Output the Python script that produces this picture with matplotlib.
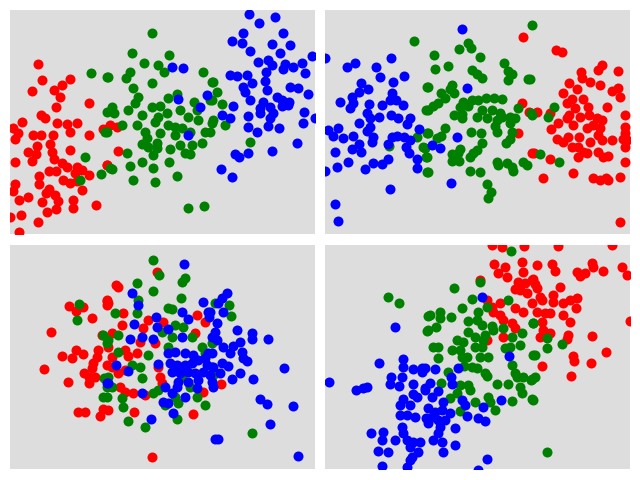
import matplotlib
matplotlib.use("Agg")
import matplotlib.pyplot as plt

# Point positions, in picture pixels (x right, y down).

# top-left panel
tl_red = [(38, 64), (42, 80), (32, 91), (54, 90), (62, 85), (70, 79), (60, 97), (56, 107), (89, 103),
          (41, 115), (45, 118), (22, 122), (13, 128), (18, 133), (15, 139), (57, 123), (67, 124), (77, 123),
          (70, 132), (33, 135), (41, 135), (53, 135), (89, 135), (37, 146), (28, 152), (36, 154), (50, 144),
          (52, 152), (70, 150), (54, 159), (62, 163), (67, 167), (15, 162), (32, 161), (77, 167), (82, 170),
          (89, 175), (75, 173), (49, 171), (56, 171), (39, 176), (63, 180), (70, 183), (77, 181), (82, 190),
          (39, 184), (15, 184), (13, 191), (49, 189), (55, 195), (46, 193), (19, 200), (28, 197), (42, 202),
          (58, 201), (73, 200), (47, 212), (56, 209), (73, 208), (96, 205), (21, 215), (10, 217), (38, 222),
          (19, 232), (107, 165), (103, 129), (110, 125), (117, 127), (118, 151), (107, 165)]
tl_green = [(91, 73), (107, 77), (107, 112), (105, 132), (85, 157), (101, 174), (110, 168), (80, 180),
            (152, 33), (132, 53), (169, 55), (144, 63), (158, 65), (164, 72), (130, 72), (126, 78), (108, 77),
            (152, 83), (133, 88), (203, 72), (212, 82), (138, 97), (168, 98), (177, 94), (194, 102), (135, 103),
            (112, 107), (114, 113), (128, 110), (142, 115), (152, 107), (160, 106), (167, 113), (158, 117),
            (180, 110), (188, 117), (197, 110), (210, 100), (212, 123), (198, 120), (155, 122), (168, 125),
            (175, 127), (182, 128), (190, 132), (205, 132), (137, 125), (145, 132), (160, 133), (175, 135),
            (122, 125), (107, 132), (147, 138), (142, 144), (148, 147), (157, 143), (157, 148), (180, 145),
            (192, 145), (202, 143), (170, 149), (185, 153), (190, 154), (127, 153), (153, 155), (142, 162),
            (130, 166), (169, 162), (153, 168), (112, 169), (133, 180), (155, 182), (177, 176), (188, 208),
            (204, 206), (213, 82), (217, 92), (212, 100), (222, 104), (213, 120), (225, 125), (210, 132),
            (250, 142)]
tl_blue = [(172, 67), (183, 68), (178, 99), (207, 95), (200, 107), (188, 135),
           (249, 14), (275, 17), (259, 23), (243, 33), (283, 33), (232, 41), (242, 43), (272, 44), (290, 45),
           (250, 51), (280, 53), (312, 56), (268, 60), (258, 62), (272, 65), (285, 64), (293, 67), (302, 63),
           (283, 69), (305, 73), (266, 72), (230, 75), (237, 76), (247, 75), (265, 81), (252, 83), (243, 87),
           (290, 87), (298, 88), (267, 90), (245, 92), (308, 94), (250, 100), (263, 102), (277, 97), (282, 100),
           (289, 102), (233, 106), (260, 108), (270, 107), (282, 106), (288, 105), (260, 113), (273, 113),
           (304, 112), (230, 118), (248, 116), (270, 118), (303, 123), (315, 118), (248, 127), (268, 126),
           (279, 128), (257, 132), (222, 115), (297, 143), (272, 151), (235, 154), (239, 157), (248, 153),
           (221, 169), (232, 177)]

# top-right panel
tr_red = [(523, 37), (522, 103), (518, 133), (532, 153), (529, 112),
          (556, 50), (562, 52), (581, 72), (582, 78), (590, 82), (600, 85), (602, 65), (598, 70), (618, 71),
          (569, 83), (612, 91), (618, 88), (620, 97), (563, 93), (577, 89), (572, 99), (583, 99), (567, 103),
          (575, 108), (588, 107), (607, 107), (569, 115), (580, 117), (589, 115), (567, 118), (597, 118),
          (602, 120), (625, 115), (537, 112), (550, 113), (558, 123), (551, 129), (573, 125), (587, 128),
          (593, 125), (600, 128), (625, 127), (625, 133), (623, 139), (627, 140), (598, 135), (557, 139),
          (563, 142), (568, 137), (572, 147), (579, 137), (578, 147), (590, 142), (583, 152), (602, 140),
          (612, 140), (598, 152), (603, 157), (608, 156), (587, 153), (625, 147), (534, 153), (550, 159),
          (578, 157), (625, 162), (543, 178), (573, 173), (593, 178), (600, 180), (606, 178), (608, 180),
          (620, 177), (620, 222)]
tr_green = [(414, 41), (427, 87), (426, 110), (417, 137), (427, 133), (423, 147), (426, 157), (427, 172),
            (389, 146), (532, 25), (459, 49), (468, 43), (471, 48), (480, 57), (434, 55), (435, 69), (448, 66),
            (504, 63), (472, 70), (508, 71), (512, 74), (508, 80), (477, 74), (482, 78), (528, 79), (452, 85),
            (428, 87), (450, 89), (441, 93), (454, 93), (445, 98), (438, 103), (433, 106), (428, 110),
            (463, 102), (472, 100), (478, 100), (486, 98), (494, 98), (502, 99), (460, 107), (468, 106),
            (482, 110), (492, 110), (500, 113), (518, 108), (531, 113), (454, 115), (462, 118), (477, 117),
            (487, 118), (497, 120), (510, 117), (515, 118), (462, 114), (502, 117), (495, 126), (510, 123),
            (497, 132), (512, 132), (445, 128), (428, 133), (441, 136), (437, 138), (471, 132), (481, 133),
            (510, 139), (506, 143), (482, 143), (477, 150), (425, 148), (460, 149), (452, 154), (458, 153),
            (473, 153), (452, 161), (459, 161), (470, 157), (427, 157), (497, 162), (498, 165), (507, 163),
            (512, 167), (513, 171), (523, 162), (527, 165), (470, 171), (480, 172), (428, 172), (487, 184),
            (491, 192), (488, 198), (530, 79), (532, 115), (554, 107), (548, 117), (540, 154), (559, 162)]
tr_blue = [(325, 58), (355, 63), (347, 67), (391, 58), (376, 67), (380, 77), (404, 76), (393, 82), (361, 83),
           (368, 89), (359, 92), (352, 97), (340, 102), (353, 103), (392, 93), (390, 100), (396, 100),
           (369, 104), (382, 105), (403, 105), (350, 108), (367, 113), (379, 117), (391, 115), (398, 118),
           (410, 118), (370, 118), (359, 123), (407, 124), (370, 127), (328, 130), (338, 128), (367, 131),
           (419, 129), (333, 136), (343, 138), (353, 136), (373, 137), (392, 137), (397, 136), (404, 137),
           (410, 140), (372, 142), (388, 144), (359, 144), (352, 149), (361, 152), (406, 147), (409, 153),
           (335, 152), (348, 162), (373, 163), (382, 164), (388, 159), (337, 167), (325, 171), (365, 169),
           (417, 159), (417, 168), (390, 189), (335, 204), (338, 221),
           (462, 29), (467, 88), (457, 137), (432, 145), (440, 148), (451, 183)]

# bottom-left panel
bl_red = [(69, 306), (76, 311), (83, 307), (92, 318), (51, 332), (107, 301), (107, 305), (102, 335),
          (76, 350), (83, 354), (62, 356), (72, 358), (98, 350), (97, 357), (93, 363), (44, 369), (92, 368),
          (84, 373), (89, 377), (95, 377), (89, 383), (68, 382), (107, 365), (78, 412), (85, 412), (103, 409),
          (100, 416), (116, 285), (118, 287), (157, 272), (107, 300), (108, 303), (123, 313), (122, 325),
          (148, 320), (163, 322), (143, 328), (197, 315), (205, 322), (195, 333), (112, 333), (108, 347),
          (125, 350), (137, 353), (112, 357), (128, 356), (155, 343), (140, 342), (112, 367), (118, 373),
          (125, 370), (158, 367), (160, 377), (162, 383), (120, 387), (125, 392), (133, 393), (145, 395),
          (108, 410), (134, 412), (193, 414), (152, 457), (203, 392), (182, 367), (221, 384)]
bl_green = [(79, 304), (77, 320), (103, 335), (107, 343), (104, 378), (103, 397), (107, 387),
            (153, 260), (159, 275), (137, 283), (153, 291), (138, 300), (115, 313), (137, 313), (168, 308),
            (172, 309), (182, 282), (185, 278), (181, 298), (183, 327), (192, 337), (175, 325), (108, 340),
            (118, 335), (118, 352), (162, 332), (172, 337), (168, 347), (148, 355), (132, 365), (140, 367),
            (202, 347), (205, 353), (212, 343), (108, 377), (112, 387), (142, 378), (122, 398), (123, 407),
            (153, 393), (158, 390), (182, 377), (175, 397), (178, 403), (165, 405), (128, 421), (145, 427),
            (177, 419), (205, 405), (197, 397), (190, 387), (107, 397), (215, 303), (229, 305), (231, 316),
            (213, 375), (252, 433)]
bl_blue = [(107, 383), (184, 264), (132, 293), (138, 305), (203, 302), (208, 312), (209, 317), (182, 312),
           (188, 319), (156, 317), (134, 324), (157, 327), (168, 329), (153, 339), (142, 337), (130, 339),
           (182, 337), (212, 337), (168, 353), (175, 352), (185, 353), (193, 355), (205, 358), (208, 353),
           (158, 364), (170, 363), (177, 365), (185, 365), (192, 363), (198, 360), (207, 365), (172, 372),
           (180, 373), (188, 372), (195, 373), (203, 372), (212, 367), (128, 371), (178, 382), (188, 382),
           (198, 380), (210, 375), (108, 383), (165, 387), (177, 387), (197, 388), (142, 393), (172, 393),
           (185, 397), (163, 402), (168, 403), (173, 413), (116, 365), (151, 419), (215, 439), (212, 382),
           (227, 293), (222, 298), (218, 303), (210, 312), (223, 312), (217, 323), (215, 332), (217, 340),
           (237, 330), (252, 333), (252, 339), (268, 339), (240, 342), (233, 346), (223, 347), (230, 353),
           (242, 352), (212, 353), (243, 358), (247, 361), (222, 363), (228, 366), (220, 373), (213, 367),
           (240, 373), (232, 379), (253, 379), (213, 387), (284, 368), (260, 399), (267, 404), (293, 406),
           (270, 424), (218, 439), (298, 456)]

# bottom-right panel
br_red = [(492, 245), (502, 247), (524, 246), (494, 264), (505, 267), (498, 273), (507, 277), (522, 262),
          (523, 272), (518, 282), (525, 283), (532, 280), (480, 280), (515, 289), (520, 290), (527, 293),
          (487, 300), (492, 307), (500, 303), (493, 312), (500, 315), (515, 308), (523, 312), (532, 303),
          (503, 320), (512, 323), (515, 328), (503, 337), (487, 340), (558, 246), (612, 245), (537, 265),
          (552, 264), (555, 271), (592, 263), (593, 267), (603, 271), (622, 267), (627, 275), (577, 272),
          (580, 276), (585, 273), (533, 279), (535, 284), (537, 288), (560, 287), (540, 297), (542, 300),
          (553, 295), (553, 302), (563, 303), (570, 300), (577, 298), (576, 308), (537, 312), (545, 313),
          (550, 313), (563, 315), (542, 322), (570, 322), (543, 330), (550, 333), (540, 337), (568, 335),
          (567, 339), (592, 336), (606, 352), (573, 356), (574, 361), (591, 363), (542, 366), (571, 376),
          (630, 321)]
br_green = [(388, 297), (399, 303), (428, 316), (427, 331), (511, 251), (480, 282), (454, 288), (472, 299),
            (508, 300), (462, 308), (478, 312), (487, 307), (430, 315), (440, 312), (440, 318), (451, 317),
            (468, 321), (477, 320), (482, 325), (492, 326), (503, 328), (428, 330), (436, 327), (468, 332),
            (485, 335), (493, 330), (522, 333), (533, 323), (457, 340), (463, 342), (475, 337), (483, 340),
            (512, 337), (433, 347), (438, 347), (452, 350), (460, 350), (475, 347), (482, 347), (505, 348),
            (510, 347), (520, 345), (462, 357), (467, 357), (480, 357), (488, 357), (438, 358), (533, 355),
            (512, 365), (472, 367), (477, 368), (464, 366), (448, 372), (485, 373), (515, 373), (517, 377),
            (523, 377), (487, 376), (531, 380), (441, 383), (497, 384), (508, 384), (520, 387), (460, 385),
            (468, 385), (470, 390), (457, 393), (450, 398), (488, 397), (490, 402), (522, 393), (532, 399),
            (475, 402), (495, 410), (512, 401), (460, 411), (533, 323), (547, 338), (547, 348), (562, 344),
            (535, 355), (535, 377), (532, 379), (533, 400), (547, 452)]
br_blue = [(395, 327), (379, 363), (403, 359), (403, 367), (413, 369), (422, 368), (422, 372), (329, 382),
           (356, 390), (363, 388), (367, 387), (391, 377), (402, 377), (390, 384), (399, 386), (413, 384),
           (425, 388), (403, 399), (413, 394), (417, 397), (400, 405), (410, 405), (400, 415), (407, 415),
           (415, 417), (426, 418), (402, 427), (371, 433), (383, 432), (403, 433), (382, 440), (395, 440),
           (407, 440), (413, 442), (420, 442), (410, 447), (378, 451), (388, 452), (418, 452), (412, 457),
           (410, 460), (382, 466), (407, 467), (482, 297), (509, 356), (458, 368), (435, 369), (425, 368),
           (451, 377), (452, 384), (430, 383), (425, 390), (438, 391), (432, 397), (443, 402), (462, 400),
           (465, 405), (501, 400), (483, 407), (428, 408), (435, 412), (442, 410), (450, 413), (432, 417),
           (438, 420), (445, 420), (467, 416), (478, 418), (485, 421), (428, 423), (440, 427), (455, 428),
           (438, 433), (433, 440), (442, 442), (455, 445), (443, 452), (487, 459), (478, 470)]

# panel extents in picture pixels: left, right, top, bottom
panels = [
    ((10, 315, 10, 234), tl_red, tl_green, tl_blue),
    ((325, 630, 10, 234), tr_red, tr_green, tr_blue),
    ((10, 315, 245, 469), bl_red, bl_green, bl_blue),
    ((325, 630, 245, 469), br_red, br_green, br_blue),
]

W, H = 640, 480
fig = plt.figure(figsize=(6.4, 4.8), dpi=100)

for (x0, x1, y0, y1), red, green, blue in panels:
    ax = fig.add_axes([x0 / W, 1 - y1 / H, (x1 - x0) / W, (y1 - y0) / H])
    ax.set_facecolor("#dddddd")
    for pts, col in ((red, "red"), (green, "green"), (blue, "blue")):
        xs = [p[0] for p in pts]
        ys = [p[1] for p in pts]
        ax.scatter(xs, ys, s=52, c=col, linewidths=0)
    ax.set_xlim(x0, x1)
    ax.set_ylim(y1, y0)
    ax.set_xticks([])
    ax.set_yticks([])
    for sp in ax.spines.values():
        sp.set_visible(False)

fig.savefig("out.png", dpi=100)
